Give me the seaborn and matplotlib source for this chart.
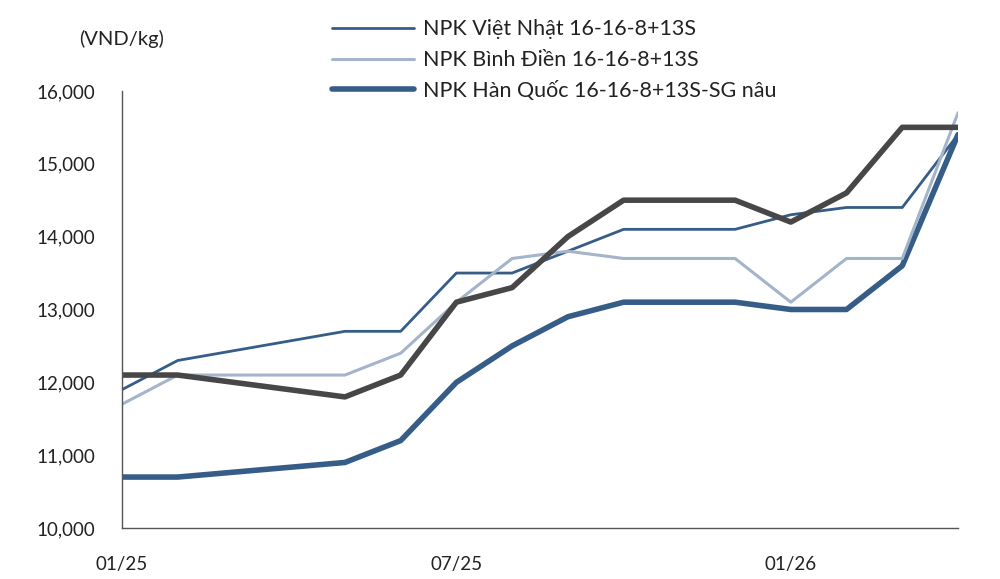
import matplotlib
matplotlib.use("Agg")
import matplotlib.pyplot as plt
import seaborn as sns
import pandas as pd
from matplotlib.lines import Line2D

# month index: 0 = 01/25 ... 15 = 04/26
months = [0, 1, 4, 5, 6, 7, 8, 9, 11, 12, 13, 14, 15]
viet_nhat = [11900, 12300, 12700, 12700, 13500, 13500, 13800, 14100, 14100, 14300, 14400, 14400, 15400]
binh_dien = [11700, 12100, 12100, 12400, 13100, 13700, 13800, 13700, 13700, 13100, 13700, 13700, 15700]
han_quoc = [10700, 10700, 10900, 11200, 12000, 12500, 12900, 13100, 13100, 13000, 13000, 13600, 15400]
other = [12100, 12100, 11800, 12100, 13100, 13300, 14000, 14500, 14500, 14200, 14600, 15500, 15500]

labels = ["NPK Việt Nhật 16-16-8+13S",
          "NPK Bình Điền 16-16-8+13S",
          "NPK Hàn Quốc 16-16-8+13S-SG nâu"]
tick_pos = [0, 6, 12]
tick_labels = ["01/25", "07/25", "01/26"]
y_ticks = [10000, 11000, 12000, 13000, 14000, 15000, 16000]

DARK = "#365d88"
LIGHT = "#a4b4ca"
GRAY = "#474747"

sns.set_style("white")
plt.rcParams["font.family"] = ["Lato", "DejaVu Sans"]

df = pd.DataFrame({"month": months, "vn": viet_nhat, "bd": binh_dien,
                   "hq": han_quoc, "other": other})

fig = plt.figure(figsize=(10, 5.79), dpi=100)
ax = fig.add_axes([0.122, 0.088, 0.836, 0.755])

sns.lineplot(data=df, x="month", y="hq", ax=ax, color=DARK, linewidth=4.0,
             solid_capstyle="round")
sns.lineplot(data=df, x="month", y="vn", ax=ax, color=DARK, linewidth=2.0)
sns.lineplot(data=df, x="month", y="bd", ax=ax, color=LIGHT, linewidth=2.2)
sns.lineplot(data=df, x="month", y="other", ax=ax, color=GRAY, linewidth=4.0,
             solid_capstyle="round")

ax.set_xlim(0, 15)
ax.set_ylim(10000, 16000)
ax.set_xticks(tick_pos)
ax.set_xticklabels(tick_labels)
ax.set_yticks(y_ticks)
ax.set_yticklabels([f"{v:,}" for v in y_ticks])
ax.set_xlabel("")
ax.set_ylabel("")

for s in ["top", "right"]:
    ax.spines[s].set_visible(False)
for s in ["left", "bottom"]:
    ax.spines[s].set_color("#555555")
    ax.spines[s].set_linewidth(1.0)

ax.tick_params(axis="x", direction="in", length=8, width=1, color="#555555",
               pad=20, labelsize=13.5, labelcolor="#222222")
ax.tick_params(axis="y", direction="inout", length=12, width=1, color="#555555",
               pad=13, labelsize=13.5, labelcolor="#222222")

fig.text(0.122, 0.933, "(VND/kg)", ha="center", va="center", fontsize=14.5,
         color="#222222")

handles = [Line2D([], [], color=DARK, linewidth=2.0),
           Line2D([], [], color=LIGHT, linewidth=2.2),
           Line2D([], [], color=DARK, linewidth=4.0, solid_capstyle="round")]
fig.legend(handles, labels, loc="upper left", bbox_to_anchor=(0.313, 1.0),
           frameon=False, fontsize=15.5, handlelength=3.8, handletextpad=0.4,
           labelspacing=0.5, labelcolor="#222222")

fig.savefig("out.png", dpi=100)
